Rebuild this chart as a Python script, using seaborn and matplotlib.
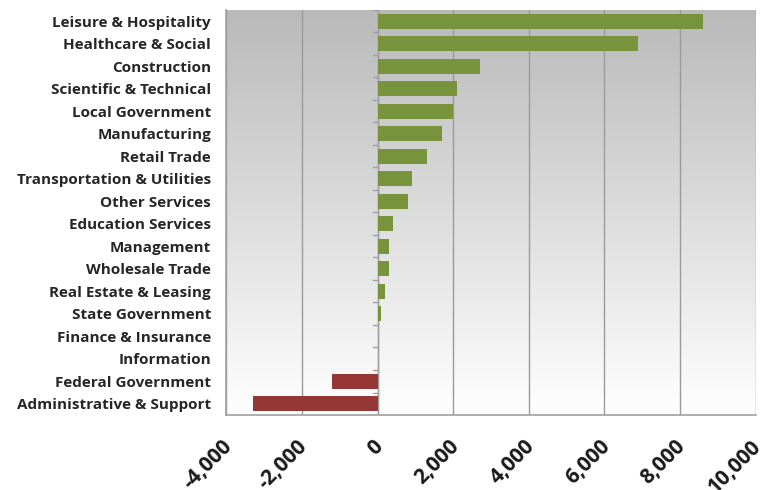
import numpy as np
import pandas as pd
import seaborn as sns
import matplotlib.pyplot as plt
from matplotlib.ticker import FuncFormatter
from matplotlib.transforms import ScaledTranslation

sectors = ["Leisure & Hospitality", "Healthcare & Social", "Construction",
           "Scientific & Technical", "Local Government", "Manufacturing",
           "Retail Trade", "Transportation & Utilities", "Other Services",
           "Education Services", "Management", "Wholesale Trade",
           "Real Estate & Leasing", "State Government", "Finance & Insurance",
           "Information", "Federal Government", "Administrative & Support"]
change = [8600, 6900, 2700, 2100, 2000, 1700, 1300, 900, 800,
          400, 300, 300, 200, 100, 0, 0, -1200, -3300]
xticks = [-4000, -2000, 0, 2000, 4000, 6000, 8000, 10000]

green = "#77933c"
red = "#953735"

df = pd.DataFrame({"sector": sectors, "change": change})
colors = {s: (green if v >= 0 else red) for s, v in zip(sectors, change)}

sns.set_style("white")
plt.rcParams['font.family'] = ['Open Sans', 'DejaVu Sans']

fig = plt.figure(figsize=(7.75, 4.9), dpi=100)
ax = fig.add_axes([0.292, 0.153, 0.683, 0.827])

# gradient background, grey at top to white at bottom
grad = np.linspace(0, 1, 256).reshape(-1, 1)
ax.imshow(grad, cmap=plt.matplotlib.colors.LinearSegmentedColormap.from_list(
    "bg", ["#b9b9b9", "#ffffff"]), aspect="auto", extent=[0, 1, 0, 1],
    transform=ax.transAxes, zorder=0)

sns.barplot(data=df, x="change", y="sector", hue="sector", palette=colors,
            legend=False, width=0.67, orient="h", ax=ax, zorder=3,
            saturation=1, linewidth=0, edgecolor="none")

ax.set_xlim(-4000, 10000)
ax.set_ylim(len(sectors) - 0.5, -0.5)
ax.set_xticks(xticks)
ax.xaxis.set_major_formatter(FuncFormatter(lambda v, p: f"{int(v):,}"))
ax.grid(axis="x", color="#9a9a9a", linewidth=1, zorder=1)
ax.set_axisbelow(True)

# category axis at zero with small ticks between bars
ax.axvline(0, color="#a0a0a0", linewidth=1, zorder=2)
for i in range(len(sectors) + 1):
    ax.plot([-110, 0], [i - 0.5, i - 0.5], color="#a0a0a0", linewidth=1, zorder=2)

ax.set_xlabel("")
ax.set_ylabel("")
ax.tick_params(axis="y", length=0, pad=11)
ax.tick_params(axis="x", length=5, color="#a0a0a0", direction="out", pad=10)
for lbl in ax.get_yticklabels():
    lbl.set_fontweight("bold")
    lbl.set_fontsize(11)
    lbl.set_color("#262626")
shift = ScaledTranslation(-5 / 100, 0, fig.dpi_scale_trans)
for lbl in ax.get_xticklabels():
    lbl.set_fontweight("bold")
    lbl.set_fontsize(15)
    lbl.set_rotation(45)
    lbl.set_ha("right")
    lbl.set_rotation_mode("anchor")
    lbl.set_color("#1a1a1a")
    lbl.set_transform(lbl.get_transform() + shift)

for side in ["top", "right"]:
    ax.spines[side].set_visible(False)
for side in ["left", "bottom"]:
    ax.spines[side].set_color("#a0a0a0")
    ax.spines[side].set_linewidth(1.2)

fig.savefig("out.png", dpi=100)
